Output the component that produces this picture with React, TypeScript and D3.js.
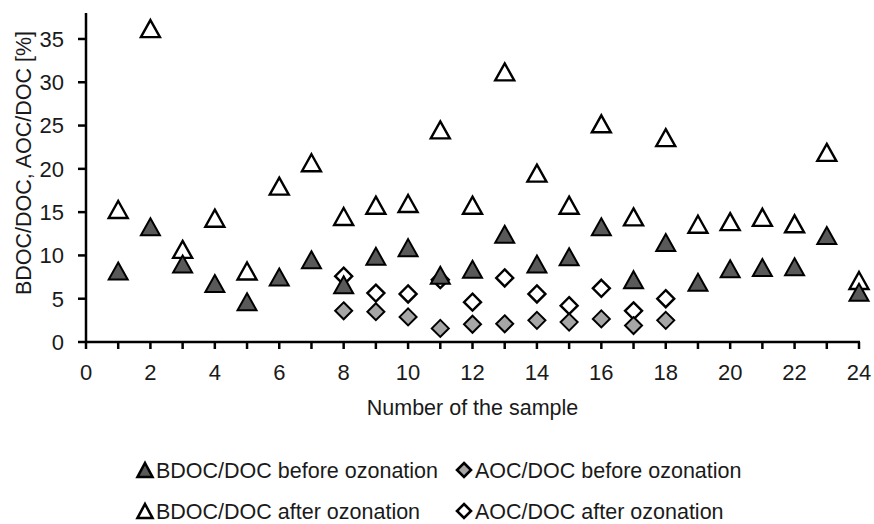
import * as d3 from 'd3';

const samples = d3.range(1, 25);
const bdocBefore = [8.2, 13.3, 9.0, 6.75, 4.65, 7.5, 9.5, 6.6, 9.9, 10.9, 7.7, 8.4, 12.45, 9.0, 9.85, 13.3, 7.2, 11.5, 6.9, 8.45, 8.6, 8.7, 12.3, 5.75];
const bdocAfter = [15.3, 36.2, 10.7, 14.3, 8.2, 18.0, 20.7, 14.5, 15.8, 16.0, 24.5, 15.8, 31.2, 19.5, 15.8, 25.2, 14.45, 23.6, 13.6, 13.9, 14.4, 13.65, 21.9, 7.1];
const aocSamples = d3.range(8, 19);
const aocBefore = [3.6, 3.5, 2.9, 1.57, 2.05, 2.1, 2.5, 2.3, 2.67, 1.9, 2.5];
const aocAfter = [7.6, 5.65, 5.55, 7.2, 4.6, 7.4, 5.55, 4.2, 6.2, 3.6, 5.0];
const yTicks = [0, 5, 10, 15, 20, 25, 30, 35];
const xLabels = d3.range(0, 25, 2);

const W = 874;
const H = 524;
const FONT = '"Liberation Sans", Arial, sans-serif';
const DARK = '#595959';
const GREY = '#a6a6a6';
const TXT = '#1a1a1a';

const x = d3.scaleLinear().domain([0, 24]).range([86, 859]);
const y = d3.scaleLinear().domain([0, 38]).range([342, 13]);

function tri(cx: number, cy: number, w = 19, h = 17) {
  return `M${cx},${cy - h / 2}L${cx + w / 2},${cy + h / 2}L${cx - w / 2},${cy + h / 2}Z`;
}
function diamond(cx: number, cy: number, s = 17) {
  const r = s / 2;
  return `M${cx},${cy - r}L${cx + r},${cy}L${cx},${cy + r}L${cx - r},${cy}Z`;
}

const legend = [
  { label: 'BDOC/DOC before ozonation', shape: 'tri', fill: DARK, col: 0, row: 0 },
  { label: 'AOC/DOC before ozonation', shape: 'dia', fill: GREY, col: 1, row: 0 },
  { label: 'BDOC/DOC after ozonation', shape: 'tri', fill: '#fff', col: 0, row: 1 },
  { label: 'AOC/DOC after ozonation', shape: 'dia', fill: '#fff', col: 1, row: 1 },
];

export default function App() {
  const [y0, y1] = y.range();
  return (
    <svg width={W} height={H} style={{ position: 'absolute', left: 0, top: 0, background: '#fff' }} fontFamily={FONT}>
      {/* axes */}
      <line x1={x(0)} x2={x(0)} y1={y1} y2={y0 + 1} stroke="#000" strokeWidth={2.5} />
      <line x1={x(0) - 1} x2={x(24) + 1} y1={y0} y2={y0} stroke="#000" strokeWidth={2.5} />
      {yTicks.map(t => (
        <g key={'y' + t}>
          <line x1={x(0) - 8} x2={x(0)} y1={y(t)} y2={y(t)} stroke="#000" strokeWidth={2.5} />
          <text x={x(0) - 22} y={y(t)} dy="0.36em" textAnchor="end" fontSize={22} fill={TXT}>{t}</text>
        </g>
      ))}
      {d3.range(0, 25).map(t => (
        <line key={'xt' + t} x1={x(t)} x2={x(t)} y1={y0} y2={y0 + 7} stroke="#000" strokeWidth={2.5} />
      ))}
      {xLabels.map(t => (
        <text key={'xl' + t} x={x(t)} y={380} textAnchor="middle" fontSize={22} fill={TXT}>{t}</text>
      ))}
      <text x={(x(0) + x(24)) / 2} y={415} textAnchor="middle" fontSize={21.5} fill={TXT}>Number of the sample</text>
      <text transform={`translate(31,163) rotate(-90)`} textAnchor="middle" fontSize={21.5} fill={TXT}>BDOC/DOC, AOC/DOC [%]</text>

      {/* series */}
      {bdocAfter.map((v, i) => (
        <path key={'ba' + i} d={tri(x(samples[i]), y(v))} fill="#fff" stroke="#000" strokeWidth={2.4} />
      ))}
      {aocAfter.map((v, i) => (
        <path key={'aa' + i} d={diamond(x(aocSamples[i]), y(v))} fill="#fff" stroke="#000" strokeWidth={2.4} />
      ))}
      {aocBefore.map((v, i) => (
        <path key={'ab' + i} d={diamond(x(aocSamples[i]), y(v))} fill={GREY} stroke="#000" strokeWidth={2} />
      ))}
      {bdocBefore.map((v, i) => (
        <path key={'bb' + i} d={tri(x(samples[i]), y(v))} fill={DARK} stroke="#000" strokeWidth={2} />
      ))}

      {/* legend */}
      {legend.map(l => {
        const lx = l.col === 0 ? 145 : 464;
        const base = l.row === 0 ? 478 : 519;
        const cy = base - 8;
        return (
          <g key={l.label}>
            {l.shape === 'tri'
              ? <path d={tri(lx, cy, 15, 14)} fill={l.fill} stroke="#000" strokeWidth={2.6} />
              : <path d={diamond(lx, cy, 14)} fill={l.fill} stroke="#000" strokeWidth={2.6} />}
            <text x={lx + 11} y={base} fontSize={21.5} fill={TXT}>{l.label}</text>
          </g>
        );
      })}
    </svg>
  );
}
